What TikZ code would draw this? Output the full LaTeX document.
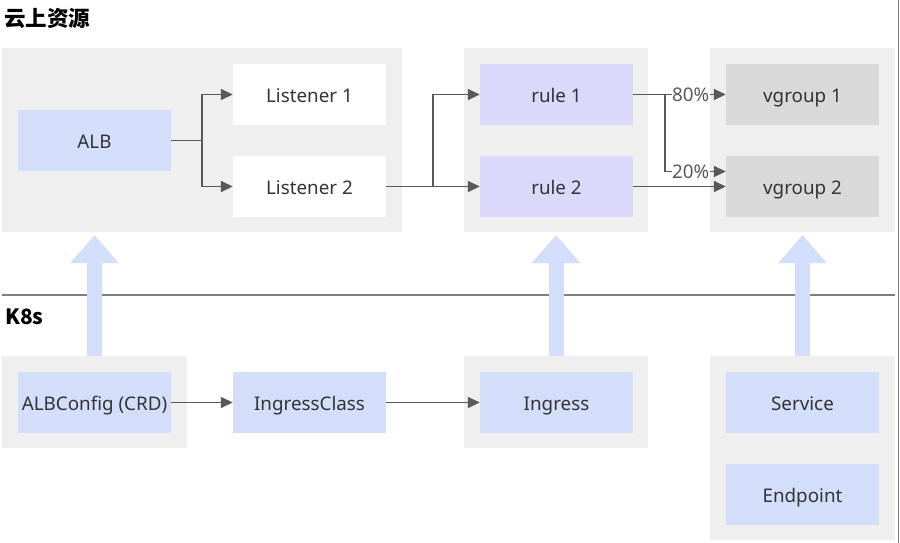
\documentclass[tikz,border=0pt]{standalone}
\usepackage{fontspec}
\setmainfont{Noto Sans}
\newfontfamily\cjk{Noto Sans CJK SC}
\usetikzlibrary{arrows.meta}
\definecolor{contbg}{HTML}{EFEFEF}
\definecolor{bluebox}{HTML}{D3DEFB}
\definecolor{lavbox}{HTML}{DCD8FC}
\definecolor{graybox}{HTML}{D9D9D9}
\definecolor{linec}{HTML}{595959}
\definecolor{txt}{HTML}{333333}
\definecolor{sepc}{HTML}{7F7F7F}
\begin{document}
\begin{tikzpicture}[x=1pt,y=-1pt,
  container/.style={fill=contbg, draw=none, inner sep=0pt},
  box/.style={draw=none, inner sep=0pt, minimum width=153pt, minimum height=61pt,
    text height=16pt, text depth=0pt,
    text=txt, font=\fontsize{18.8}{22}\selectfont},
  bluen/.style={box, fill=bluebox},
  laven/.style={box, fill=lavbox},
  grayn/.style={box, fill=graybox},
  whiten/.style={box, fill=white},
  conn/.style={draw=linec, line width=1.5pt},
  tip/.style={-{Triangle[length=12pt,width=11pt]}},
  pct/.style={fill=white, inner sep=0.5pt, text height=14pt, text depth=0pt, text=linec, font=\fontsize{18.8}{22}\selectfont},
  bigarrow/.style={draw=bluebox, line width=15pt, -{Triangle[length=28pt,width=47pt]}, shorten >=3pt},
  heading/.style={anchor=west, inner sep=0pt, text=black}
]
\useasboundingbox (0,0) rectangle (900,543);
\fill[white] (0,0) rectangle (900,543);

% titles
\node[heading, font=\cjk\bfseries\fontsize{21.5}{25}\selectfont] (t1) at (4,18) {云上资源};
\node[heading, font=\cjk\bfseries\fontsize{21}{25}\selectfont] (t2) at (5,317) {K8s};

% separator and right edge
\coordinate (sepL) at (2,295);
\coordinate (sepR) at (895,295);
\draw[sepc, line width=1.5pt] (sepL) -- (sepR);
\coordinate (edgeT) at (898.5,0);
\coordinate (edgeB) at (898.5,543);
\draw[sepc, line width=1pt] (edgeT) -- (edgeB);

% containers
\node[container, minimum width=400pt, minimum height=184pt] (top1) at (202,140) {};
\node[container, minimum width=184pt, minimum height=184pt] (top2) at (556,140) {};
\node[container, minimum width=185pt, minimum height=184pt] (top3) at (802.5,140) {};
\node[container, minimum width=185pt, minimum height=92pt] (k1) at (94.5,402) {};
\node[container, minimum width=184pt, minimum height=92pt] (k3) at (556,402) {};
\node[container, minimum width=185pt, minimum height=184pt] (k4) at (802.5,448) {};

% boxes
\node[bluen] (alb) at (94.5,140.5) {ALB};
\node[whiten] (lis1) at (309.5,94.5) {Listener 1};
\node[whiten] (lis2) at (309.5,186.5) {Listener 2};
\node[laven] (rule1) at (556.5,94.5) {rule 1};
\node[laven] (rule2) at (556.5,186.5) {rule 2};
\node[grayn] (vg1) at (802.5,94.5) {vgroup 1};
\node[grayn] (vg2) at (802.5,186.5) {vgroup 2};
\node[bluen] (albc) at (94.5,402.5) {ALBConfig (CRD)};
\node[bluen] (ic) at (309.5,402.5) {IngressClass};
\node[bluen] (ing) at (556.5,402.5) {Ingress};
\node[bluen] (svc) at (802.5,402.5) {Service};
\node[bluen] (ep) at (802.5,494.5) {Endpoint};

% connectors
\draw[conn] (alb.east) -- ++(31,0) coordinate (j1);
\draw[conn, tip] (j1) |- (lis1.west);
\draw[conn, tip] (j1) |- (lis2.west);
\draw[conn, tip] (lis2.east) -- (rule2.west);
\draw[conn] (lis2.east) -- ++(47,0) coordinate (j2);
\draw[conn, tip] (j2) |- (rule1.west);
\draw[conn] (rule1.east) -- ++(32,0) coordinate (j3);
\draw[conn, tip] (j3) -- node[pct, pos=0.42] {80\%} (vg1.west);
\coordinate (v2in) at ([yshift=15pt]vg2.west);
\draw[conn, tip] (j3) |- node[pct, pos=0.71] {20\%} (v2in);
\draw[conn, tip] (rule2.east) -- (vg2.west);
\draw[conn, tip] (albc.east) -- (ic.west);
\draw[conn, tip] (ic.east) -- (ing.west);

% big arrows
\draw[bigarrow] (k1.north) -- (k1.north |- top1.south);
\draw[bigarrow] (k3.north) -- (top2.south);
\draw[bigarrow] (k4.north) -- (top3.south);
\end{tikzpicture}
\end{document}
